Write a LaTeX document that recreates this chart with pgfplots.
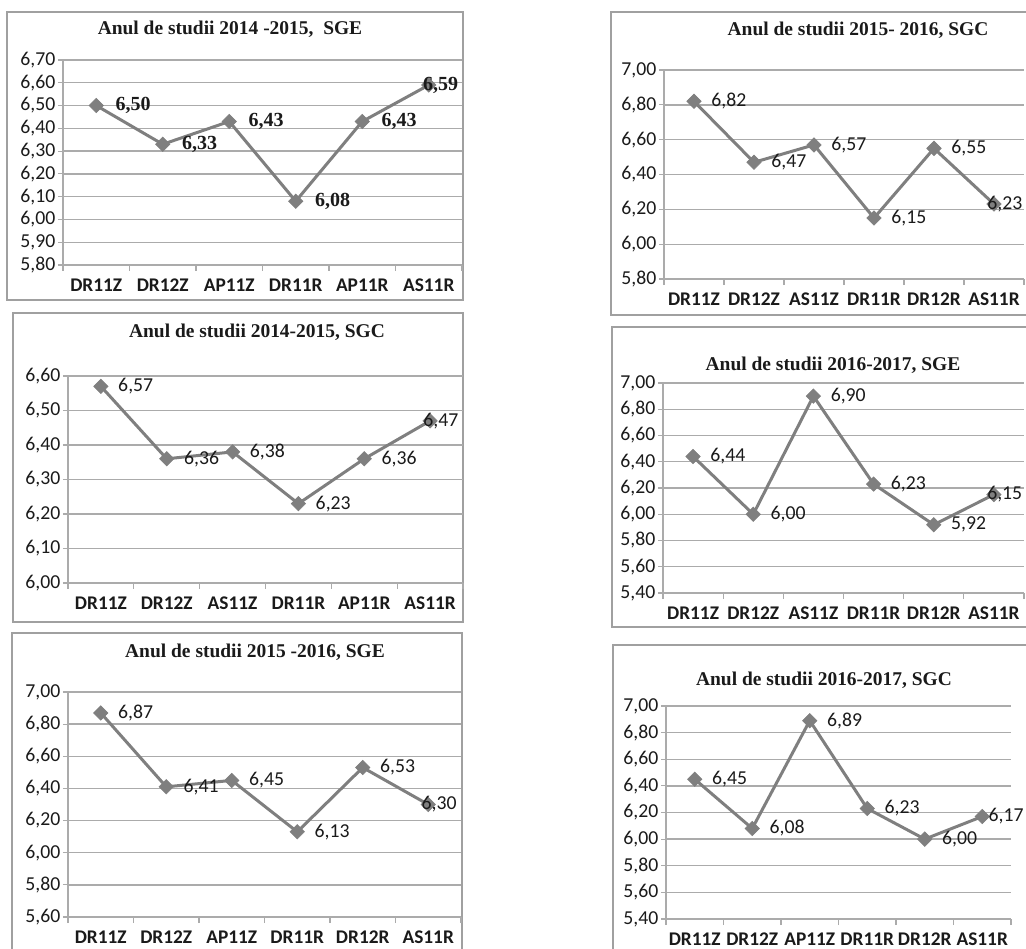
\documentclass[border=0pt]{standalone}
\usepackage{pgfplots}
\pgfplotsset{compat=1.18}
\usepackage{fontspec}
\setmainfont{Carlito}
\newfontfamily\tnr{Liberation Serif}
\definecolor{gridc}{HTML}{ABABAB}
\definecolor{framec}{HTML}{A0A0A0}
\definecolor{linec}{HTML}{7F7F7F}
\definecolor{txt}{HTML}{1A1A1A}
\newcommand\lab{\fontsize{14.8}{15}\selectfont}
\newcommand\xlab{\bfseries\fontsize{14.5}{15}\selectfont}
\newcommand\tlab{\tnr\bfseries\fontsize{15}{16}\selectfont}
\newcommand\ttl{\tnr\bfseries\fontsize{14.6}{16}\selectfont}
\pgfplotsset{
  panel/.style={
    scale only axis, anchor=north west, clip=false,
    xmin=-0.5, xmax=5.5, enlargelimits=false,
    axis lines*=left,
    axis line style={draw=gridc, line width=1pt},
    ymajorgrids, grid style={draw=gridc, line width=1pt},
    xtick={0,1,2,3,4,5},
    major x tick style={draw=none},
    minor xtick={-0.5,0.5,1.5,2.5,3.5,4.5,5.5},
    tick align=outside, major tick length=3.75pt, minor tick length=4.5pt,
    every tick/.style={draw=gridc, line width=0.8pt},
    yticklabel style={font=\lab, text=txt, xshift=1.5pt, /pgf/number format/.cd, fixed, fixed zerofill, precision=2, use comma, assume math mode=true},
    xticklabel style={font=\xlab, text=txt, yshift=-3pt},
  },
  series/.style={
    draw=linec, line width=2.25pt, mark=square*,
    mark options={rotate=45, fill=linec, draw=linec, line width=0.5pt},
    mark size=3.8pt,
    visualization depends on={value \thisrow{dx} \as \dx},
    point meta=y,
    nodes near coords={\pgfmathprintnumber[fixed,fixed zerofill,precision=2,use comma,assume math mode=true]{\pgfplotspointmeta}},
    every node near coord/.append style={anchor=west, inner sep=0pt, xshift={\dx*0.75pt}, font=\lab, text=txt},
  },
}
\begin{document}
\begin{tikzpicture}
\path[use as bounding box] (0,0) rectangle (769.5pt,-711.75pt);
\begin{scope}[x=0.75pt,y=-0.75pt]
\draw[framec, line width=1.1pt] (7,12) rectangle (463,300);
\draw[framec, line width=1.1pt] (13,313) rectangle (463,622);
\draw[framec, line width=1.1pt] (12,633) rectangle (462,970);
\draw[framec, line width=1.1pt] (611,12) rectangle (1050,315);
\draw[framec, line width=1.1pt] (612,327) rectangle (1050,627);
\draw[framec, line width=1.1pt] (613,645) rectangle (1050,970);
\node[font=\ttl, text=txt] at (230,29) {Anul de studii 2014 -2015,\ \ SGE};
\node[font=\ttl, text=txt] at (257,332) {Anul de studii 2014-2015, SGC};
\node[font=\ttl, text=txt] at (255,652) {Anul de studii 2015 -2016, SGE};
\node[font=\ttl, text=txt] at (858,30) {Anul de studii 2015- 2016, SGC};
\node[font=\ttl, text=txt] at (833,365) {Anul de studii 2016-2017, SGE};
\node[font=\ttl, text=txt] at (824,680) {Anul de studii 2016-2017, SGC};
\end{scope}

% Panel 1: 2014-2015 SGE
\begin{axis}[panel, at={(47.25pt,-45pt)}, width=299.25pt, height=153.75pt,
  ymin=5.8, ymax=6.7, ytick={5.8,5.9,6.0,6.1,6.2,6.3,6.4,6.5,6.6,6.7},
  xticklabels={DR11Z,DR12Z,AP11Z,DR11R,AP11R,AS11R}]
\addplot[series, every node near coord/.append style={font=\tlab}] table {
x y dx
0 6.50 19
1 6.33 19
2 6.43 19
3 6.08 19
4 6.43 19
5 6.59 -6
};
\end{axis}

% Panel 3: 2014-2015 SGC
\begin{axis}[panel, at={(51pt,-282pt)}, width=296.25pt, height=155.25pt,
  ymin=6.0, ymax=6.6, ytick={6.0,6.1,6.2,6.3,6.4,6.5,6.6},
  xticklabels={DR11Z,DR12Z,AS11Z,DR11R,AP11R,AS11R}]
\addplot[series] table {
x y dx
0 6.57 17
1 6.36 17
2 6.38 17
3 6.23 17
4 6.36 17
5 6.47 -7
};
\end{axis}

% Panel 5: 2015-2016 SGE
\begin{axis}[panel, at={(51pt,-519pt)}, width=294.75pt, height=168.75pt,
  ymin=5.6, ymax=7.0, ytick={5.6,5.8,6.0,6.2,6.4,6.6,6.8,7.0},
  xticklabels={DR11Z,DR12Z,AP11Z,DR11R,DR12R,AS11R}]
\addplot[series] table {
x y dx
0 6.87 17
1 6.41 17
2 6.45 17
3 6.13 17
4 6.53 17
5 6.30 -7
};
\end{axis}

% Panel 2: 2015-2016 SGC
\begin{axis}[panel, at={(498pt,-52.5pt)}, width=270pt, height=156.75pt,
  ymin=5.8, ymax=7.0, ytick={5.8,6.0,6.2,6.4,6.6,6.8,7.0},
  xticklabels={DR11Z,DR12Z,AS11Z,DR11R,DR12R,AS11R}]
\addplot[series] table {
x y dx
0 6.82 17
1 6.47 17
2 6.57 17
3 6.15 17
4 6.55 17
5 6.23 -7
};
\end{axis}

% Panel 4: 2016-2017 SGE
\begin{axis}[panel, at={(497.25pt,-287.25pt)}, width=270.75pt, height=157.5pt,
  ymin=5.4, ymax=7.0, ytick={5.4,5.6,5.8,6.0,6.2,6.4,6.6,6.8,7.0},
  xticklabels={DR11Z,DR12Z,AS11Z,DR11R,DR12R,AS11R}]
\addplot[series] table {
x y dx
0 6.44 17
1 6.00 17
2 6.90 17
3 6.23 17
4 5.92 17
5 6.15 -7
};
\end{axis}

% Panel 6: 2016-2017 SGC
\begin{axis}[panel, at={(499.5pt,-529.5pt)}, width=258.75pt, height=159.75pt,
  ymin=5.4, ymax=7.0, ytick={5.4,5.6,5.8,6.0,6.2,6.4,6.6,6.8,7.0},
  xticklabels={DR11Z,DR12Z,AP11Z,DR11R,DR12R,AS11R}]
\addplot[series] table {
x y dx
0 6.45 17
1 6.08 17
2 6.89 17
3 6.23 17
4 6.00 17
5 6.17 6
};
\end{axis}
\end{tikzpicture}
\end{document}
